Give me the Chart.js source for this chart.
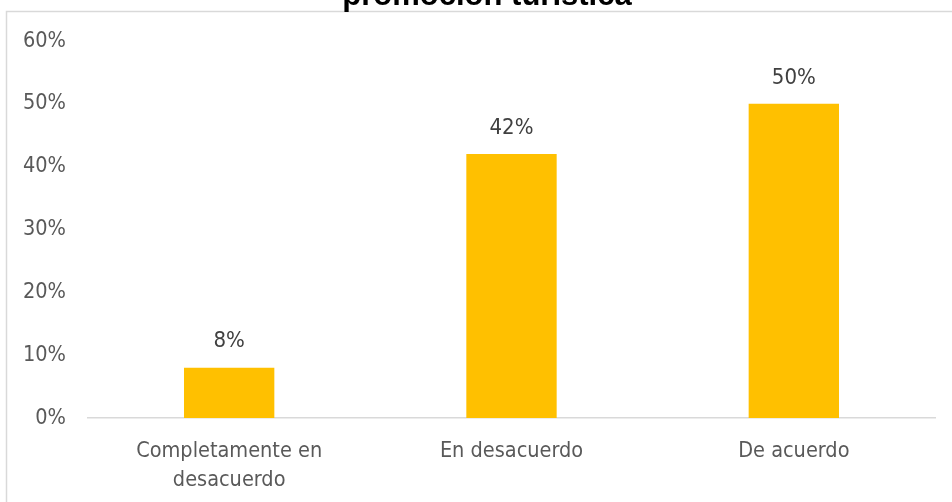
<!DOCTYPE html>
<html>
<head>
<meta charset="utf-8">
<script src="https://cdn.jsdelivr.net/npm/chart.js@4.4.1/dist/chart.umd.min.js"></script>
<style>
  html, body { margin: 0; padding: 0; background: #fff; }
  #wrap { position: relative; width: 952px; height: 502px; overflow: hidden; }
</style>
</head>
<body>
<div id="wrap"><canvas id="barChart" width="952" height="502"></canvas></div>
<script>
const chartTitle = 'promoción turística';
const categories = [['Completamente en', 'desacuerdo'], 'En desacuerdo', 'De acuerdo'];
const percentages = [8, 42, 50];
const yTicks = [0, 10, 20, 30, 40, 50, 60];

const labelFont = '"DejaVu Sans Condensed", "Liberation Sans Narrow", Lato, sans-serif';

// frame line and the (partly hidden) heading
const framePlugin = {
    id: 'frame',
    beforeDraw(chart) {
        const ctx = chart.ctx;
        ctx.save();
        ctx.strokeStyle = '#d9d9d9';
        ctx.lineWidth = 1.5;
        ctx.strokeRect(6.5, 11.5, chart.width + 20, chart.height + 20);
        ctx.fillStyle = '#000';
        ctx.font = 'bold 31px "Liberation Sans", Arial, sans-serif';
        ctx.textAlign = 'center';
        ctx.textBaseline = 'alphabetic';
        ctx.fillText(chartTitle, 487, 5);
        ctx.restore();
    }
};

// value labels above each bar
const valueLabels = {
    id: 'valueLabels',
    afterDatasetsDraw(chart) {
        const ctx = chart.ctx;
        const meta = chart.getDatasetMeta(0);
        ctx.save();
        ctx.fillStyle = '#404040';
        ctx.font = '22px ' + labelFont;
        ctx.textAlign = 'center';
        ctx.textBaseline = 'middle';
        meta.data.forEach((bar, i) => {
            ctx.fillText(percentages[i] + '%', bar.x, bar.y - 26);
        });
        ctx.restore();
    }
};

new Chart(document.getElementById('barChart'), {
    type: 'bar',
    data: {
        labels: categories,
        datasets: [{
            data: percentages,
            backgroundColor: '#ffc000',
            categoryPercentage: 1,
            barPercentage: 0.32
        }]
    },
    options: {
        responsive: false,
        animation: false,
        layout: { padding: { top: 41, right: 17, bottom: 0, left: 0 } },
        plugins: {
            legend: { display: false },
            tooltip: { enabled: false },
            title: { display: false }
        },
        scales: {
            x: {
                grid: { display: false, drawTicks: false },
                border: { display: true, color: '#d9d9d9', width: 1.5 },
                ticks: {
                    color: '#595959',
                    font: { family: labelFont, size: 21.5, lineHeight: 1.35 },
                    padding: 19,
                    maxRotation: 0
                },
                afterFit(scale) { scale.height = 84; }
            },
            y: {
                min: 0,
                max: 60,
                grid: { display: false, drawTicks: false },
                border: { display: false },
                afterBuildTicks(scale) { scale.ticks = yTicks.map(v => ({ value: v })); },
                ticks: {
                    color: '#595959',
                    font: { family: labelFont, size: 21.5 },
                    padding: 22,
                    callback: v => v + '%'
                },
                afterFit(scale) { scale.width = 88; }
            }
        }
    },
    plugins: [framePlugin, valueLabels]
});
</script>
</body>
</html>
